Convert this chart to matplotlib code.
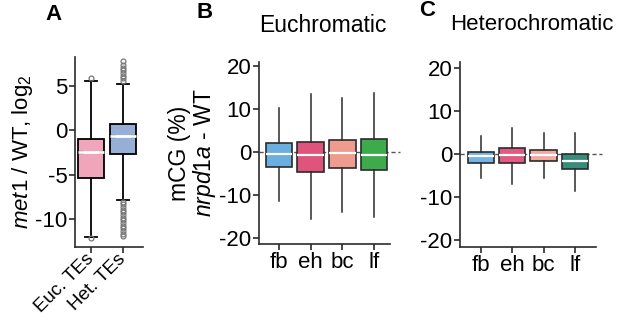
import matplotlib
matplotlib.use('Agg')
import matplotlib.pyplot as plt

plt.rcParams['font.family'] = ['Liberation Sans', 'DejaVu Sans']
plt.rcParams['mathtext.fontset'] = 'custom'
plt.rcParams['mathtext.rm'] = 'Liberation Sans'
plt.rcParams['mathtext.it'] = 'Liberation Sans:italic'

# panel A: met1 / WT, log2
te_labels = ['Euc. TEs', 'Het. TEs']
te_q1 = [-5.4, -2.7]
te_med = [-2.4, -0.6]
te_q3 = [-1.0, 0.7]
te_lo = [-12.0, -7.8]
te_hi = [5.5, 5.2]
te_fliers = [
    [5.8, -12.1],
    [5.5, 5.8, 6.1, 6.4, 6.7, 7.0, 7.3, 7.8, 8.8,
     -8.0, -8.3, -8.6, -8.9, -9.2, -9.5, -9.8, -10.1, -10.4, -10.7,
     -11.0, -11.3, -11.6, -11.9],
]
te_colors = ['#F0A5BA', '#97AFD7']

# panels B and C: mCG nrpd1a - WT
tissues = ['fb', 'eh', 'bc', 'lf']
euc_q1 = [-3.4, -4.7, -3.8, -4.2]
euc_med = [-0.5, -0.7, -0.3, -0.7]
euc_q3 = [2.0, 2.4, 2.8, 3.0]
euc_lo = [-11.5, -15.6, -13.9, -15.1]
euc_hi = [10.3, 13.4, 12.6, 13.6]
euc_colors = ['#6BAEE0', '#E0537C', '#EF9B8F', '#3DAA4C']

het_q1 = [-2.0, -2.0, -1.6, -3.4]
het_med = [-0.5, -0.3, -0.2, -1.7]
het_q3 = [0.5, 1.3, 1.0, 0.0]
het_lo = [-5.6, -7.0, -5.6, -8.6]
het_hi = [4.2, 6.0, 4.8, 5.0]
het_colors = ['#74B3E3', '#E05A82', '#F2AAA0', '#3A8C7A']

edge = '#2b2b2b'


def make_stats(q1, med, q3, lo, hi, fliers=None):
    stats = []
    for i in range(len(q1)):
        stats.append({'q1': q1[i], 'med': med[i], 'q3': q3[i],
                      'whislo': lo[i], 'whishi': hi[i],
                      'fliers': fliers[i] if fliers else []})
    return stats


def style_axis(ax):
    for s in ['top', 'right']:
        ax.spines[s].set_visible(False)
    for s in ['left', 'bottom']:
        ax.spines[s].set_linewidth(1.2)
        ax.spines[s].set_color(edge)
    ax.tick_params(axis='both', labelsize=16, length=4, width=1.2, color=edge, pad=1.5)


fig = plt.figure(figsize=(6.17, 3.19), dpi=100)

# ---- A
axA = fig.add_axes([0.1216, 0.2257, 0.110, 0.5956])
bp = axA.bxp(make_stats(te_q1, te_med, te_q3, te_lo, te_hi, te_fliers),
             positions=[1, 2], widths=0.84, patch_artist=True,
             boxprops=dict(edgecolor='black', linewidth=1.3),
             whiskerprops=dict(color='black', linewidth=1.3),
             capprops=dict(color='black', linewidth=1.3),
             capwidths=0.36,
             medianprops=dict(color='white', linewidth=2),
             flierprops=dict(marker='o', markersize=3.5, markerfacecolor='none',
                             markeredgecolor='#777777', markeredgewidth=0.9))
for patch, c in zip(bp['boxes'], te_colors):
    patch.set_facecolor(c)
# dark ends on the median line
for pos, m in zip([1, 2], te_med):
    axA.plot([pos - 0.42, pos - 0.25], [m, m], color='black', lw=2.2, solid_capstyle='butt')
    axA.plot([pos + 0.25, pos + 0.42], [m, m], color='black', lw=2.2, solid_capstyle='butt')
axA.set_xlim(0.5, 2.62)
axA.set_ylim(-13.1, 8.2)
axA.set_yticks([5, 0, -5, -10])
axA.set_yticklabels(['5', '0', '-5', '-10'])
axA.set_xticks([1, 2])
axA.set_xticklabels(te_labels, rotation=45, ha='right', va='center',
                    rotation_mode='anchor')
style_axis(axA)
axA.tick_params(axis='x', labelsize=13.5, pad=3)
axA.set_ylabel(r'$\it{met1}$ / WT, log$_2$', fontsize=16, labelpad=0)

# ---- B and C
panels = [
    ([0.4198, 0.235, 0.2123, 0.5705], (0.37, 4.5), (-21.4, 20.9),
     make_stats(euc_q1, euc_med, euc_q3, euc_lo, euc_hi), euc_colors, 4.8),
    ([0.7455, 0.2257, 0.2204, 0.58], (0.33, 4.67), (-21.6, 21.4),
     make_stats(het_q1, het_med, het_q3, het_lo, het_hi), het_colors, 4.85),
]
axes = []
for rect, xl, yl, stats, cols, dash_end in panels:
    ax = fig.add_axes(rect)
    ax.plot([xl[0], dash_end], [0, 0], color='#555555', lw=1, ls=(0, (3, 2)),
            clip_on=False, zorder=0)
    bp = ax.bxp(stats, positions=[1, 2, 3, 4], widths=0.84, patch_artist=True,
                showcaps=False, showfliers=False,
                boxprops=dict(edgecolor=edge, linewidth=1.2),
                whiskerprops=dict(color=edge, linewidth=1.1),
                medianprops=dict(color='white', linewidth=1.6))
    for patch, c in zip(bp['boxes'], cols):
        patch.set_facecolor(c)
    ax.set_xlim(*xl)
    ax.set_ylim(*yl)
    ax.set_yticks([20, 10, 0, -10, -20])
    ax.set_yticklabels(['20', '10', '0', '-10', '-20'])
    ax.set_xticks([1, 2, 3, 4])
    ax.set_xticklabels(tissues)
    style_axis(ax)
    axes.append(ax)

axes[0].set_ylabel('mCG (%)\n' + r'$\it{nrpd1a}$ - WT', fontsize=16.5, labelpad=1,
                   linespacing=1.0)

fig.text(323 / 617, 1 - 25 / 319, 'Euchromatic', fontsize=16.5, ha='center', va='center')
fig.text(532 / 617, 1 - 25 / 319, 'Heterochromatic', fontsize=16, ha='center', va='center')
fig.text(53 / 617, 1 - 15 / 319, 'A', fontsize=16, fontweight='bold', ha='center', va='center')
fig.text(205 / 617, 1 - 12 / 319, 'B', fontsize=16, fontweight='bold', ha='center', va='center')
fig.text(427 / 617, 1 - 10 / 319, 'C', fontsize=16, fontweight='bold', ha='center', va='center')

fig.savefig('out.png', dpi=100)
